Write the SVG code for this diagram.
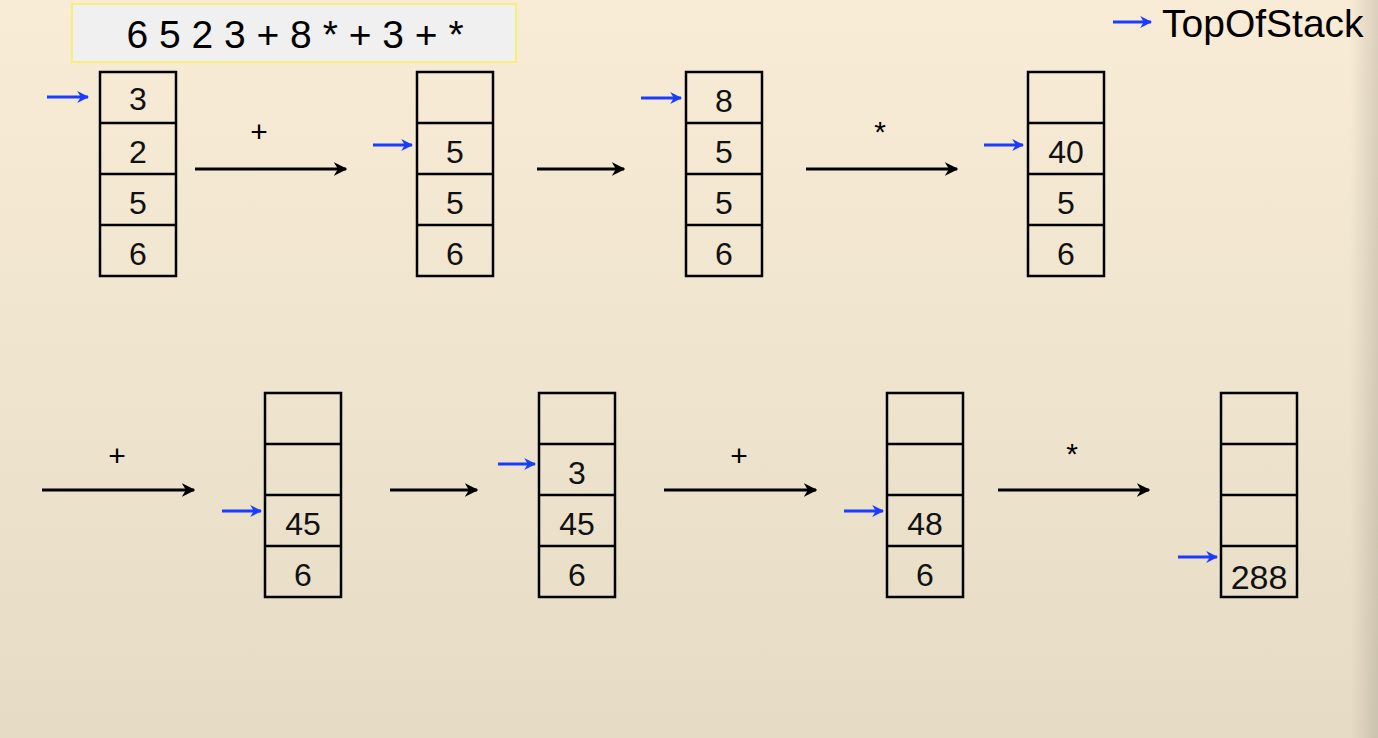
<svg xmlns="http://www.w3.org/2000/svg" width="1378" height="738" viewBox="0 0 1378 738">
<defs>
<linearGradient id="bg" x1="0" y1="0" x2="0" y2="1"><stop offset="0" stop-color="#f8ecd6"/><stop offset="1" stop-color="#e6dcc6"/></linearGradient>
<linearGradient id="edge" x1="0" y1="0" x2="1" y2="0"><stop offset="0" stop-color="#000" stop-opacity="0"/><stop offset="1" stop-color="#000" stop-opacity="0.12"/></linearGradient>
<marker id="ah" viewBox="0 0 10 10" refX="9" refY="5" markerWidth="4.5" markerHeight="4.5" orient="auto"><path d="M0,0 L10,5 L0,10 L3,5 Z" fill="#000"/></marker>
<marker id="bh" viewBox="0 0 10 10" refX="9" refY="5" markerWidth="4" markerHeight="4" orient="auto"><path d="M0,0 L10,5 L0,10 L3,5 Z" fill="#1a3cff"/></marker>
<style>
.cell{fill:none;stroke:#000;stroke-width:2.5}
.v{font-family:"Liberation Sans",Arial,sans-serif;font-size:32px;text-anchor:middle;fill:#111}
.op{font-family:"Liberation Sans",Arial,sans-serif;font-size:30px;text-anchor:middle;fill:#000}
.k{stroke:#000;stroke-width:3;marker-end:url(#ah)}
.b{stroke:#1a3cff;stroke-width:3;marker-end:url(#bh)}
</style>
</defs>
<rect width="1378" height="738" fill="url(#bg)"/>
<rect x="1350" width="28" height="738" fill="url(#edge)"/>
<g id="header"><rect x="72" y="4" width="444" height="58" fill="#f0f0f0" stroke="#f5f07a" stroke-width="2"/>
<text x="295" y="48" font-family="Liberation Sans,Arial,sans-serif" font-size="39" text-anchor="middle">6 5 2 3 + 8 * + 3 + *</text></g>
<g id="legend"><line class="b" x1="1113" y1="22" x2="1151" y2="22"/>
<text x="1162" y="37" font-family="Liberation Sans,Arial,sans-serif" font-size="39">TopOfStack</text></g>
<g id="stack1" transform="translate(100,72)"><rect class="cell" width="76" height="204"/><path class="cell" d="M0,51H76M0,102H76M0,153H76"/>
<text class="v" x="38" y="38">3</text><text class="v" x="38" y="91">2</text><text class="v" x="38" y="142">5</text><text class="v" x="38" y="193">6</text></g>
<g id="stack2" transform="translate(417,72)"><rect class="cell" width="76" height="204"/><path class="cell" d="M0,51H76M0,102H76M0,153H76"/>
<text class="v" x="38" y="91">5</text><text class="v" x="38" y="142">5</text><text class="v" x="38" y="193">6</text></g>
<g id="stack3" transform="translate(686,72)"><rect class="cell" width="76" height="204"/><path class="cell" d="M0,51H76M0,102H76M0,153H76"/>
<text class="v" x="38" y="40">8</text><text class="v" x="38" y="91">5</text><text class="v" x="38" y="142">5</text><text class="v" x="38" y="193">6</text></g>
<g id="stack4" transform="translate(1028,72)"><rect class="cell" width="76" height="204"/><path class="cell" d="M0,51H76M0,102H76M0,153H76"/>
<text class="v" x="38" y="91">40</text><text class="v" x="38" y="142">5</text><text class="v" x="38" y="193">6</text></g>
<g id="stack5" transform="translate(265,393)"><rect class="cell" width="76" height="204"/><path class="cell" d="M0,51H76M0,102H76M0,153H76"/>
<text class="v" x="38" y="142">45</text><text class="v" x="38" y="193">6</text></g>
<g id="stack6" transform="translate(539,393)"><rect class="cell" width="76" height="204"/><path class="cell" d="M0,51H76M0,102H76M0,153H76"/>
<text class="v" x="38" y="91">3</text><text class="v" x="38" y="142">45</text><text class="v" x="38" y="193">6</text></g>
<g id="stack7" transform="translate(887,393)"><rect class="cell" width="76" height="204"/><path class="cell" d="M0,51H76M0,102H76M0,153H76"/>
<text class="v" x="38" y="142">48</text><text class="v" x="38" y="193">6</text></g>
<g id="stack8" transform="translate(1221,393)"><rect class="cell" width="76" height="204"/><path class="cell" d="M0,51H76M0,102H76M0,153H76"/>
<text class="v" x="38" y="196" style="font-size:34px">288</text></g>
<g id="connectors">
<line class="k" x1="195" y1="169" x2="346" y2="169"/><text class="op" x="259" y="142">+</text>
<line class="k" x1="537" y1="169" x2="624" y2="169"/>
<line class="k" x1="806" y1="169" x2="957" y2="169"/><text class="op" x="880" y="142">*</text>
<line class="k" x1="42" y1="490" x2="194" y2="490"/><text class="op" x="117" y="466">+</text>
<line class="k" x1="390" y1="490" x2="477" y2="490"/>
<line class="k" x1="664" y1="490" x2="816" y2="490"/><text class="op" x="739" y="466">+</text>
<line class="k" x1="998" y1="490" x2="1149" y2="490"/><text class="op" x="1072" y="464">*</text>
<line class="b" x1="47" y1="97" x2="88" y2="97"/>
<line class="b" x1="373" y1="145" x2="412" y2="145"/>
<line class="b" x1="641" y1="98" x2="681" y2="98"/>
<line class="b" x1="984" y1="145" x2="1023" y2="145"/>
<line class="b" x1="222" y1="511" x2="261" y2="511"/>
<line class="b" x1="498" y1="464" x2="535" y2="464"/>
<line class="b" x1="844" y1="511" x2="883" y2="511"/>
<line class="b" x1="1178" y1="557" x2="1217" y2="557"/>
</g>
</svg>
